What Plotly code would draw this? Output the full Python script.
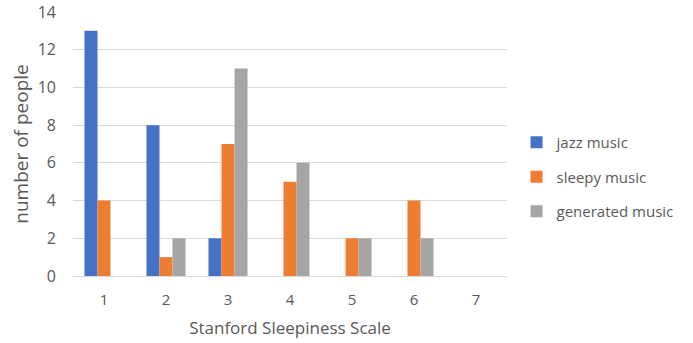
import plotly.graph_objects as go

categories = ["1", "2", "3", "4", "5", "6", "7"]
jazz = [13, 8, 2, 0, 0, 0, 0]
sleepy = [4, 1, 7, 5, 2, 4, 0]
generated = [0, 2, 11, 6, 2, 2, 0]
series = [("jazz music", jazz, "#4472C4"),
          ("sleepy music", sleepy, "#ED7D31"),
          ("generated music", generated, "#A5A5A5")]

fig = go.Figure()
for name, vals, col in series:
    fig.add_trace(go.Bar(x=categories, y=vals, name=name, marker_color=col,
                         marker_line_width=0, legendgroup=name))

font = "Open Sans, Liberation Sans, sans-serif"
fig.update_layout(
    width=693, height=343,
    margin=dict(l=73, r=186, t=12, b=67),
    paper_bgcolor="white", plot_bgcolor="white",
    barmode="group", bargap=0.37, bargroupgap=0,
    font=dict(family=font, color="#595959", size=14),
    legend=dict(x=1.022, y=0.375, yanchor="middle", xanchor="left",
                font=dict(size=15, color="#595959"),
                tracegroupgap=12, itemwidth=30),
    xaxis=dict(showgrid=False, showline=True, linecolor="#D9D9D9", linewidth=1,
               ticks="", tickfont=dict(size=15, color="#595959"), automargin=False,
               ticklabelstandoff=10,
               title=dict(text="Stanford Sleepiness Scale", font=dict(size=17, color="#595959"), standoff=14)),
    yaxis=dict(range=[0, 14], dtick=2, showgrid=True, gridcolor="#D9D9D9",
               zeroline=False, showline=False, ticks="", automargin=False,
               tickfont=dict(size=16, color="#595959"), ticklabelstandoff=16,
               title=dict(text="number of people", font=dict(size=19, color="#595959"), standoff=4)),
)
fig.write_html("out.html", config={"displayModeBar": False},
               post_script="document.body.style.margin='0';")
